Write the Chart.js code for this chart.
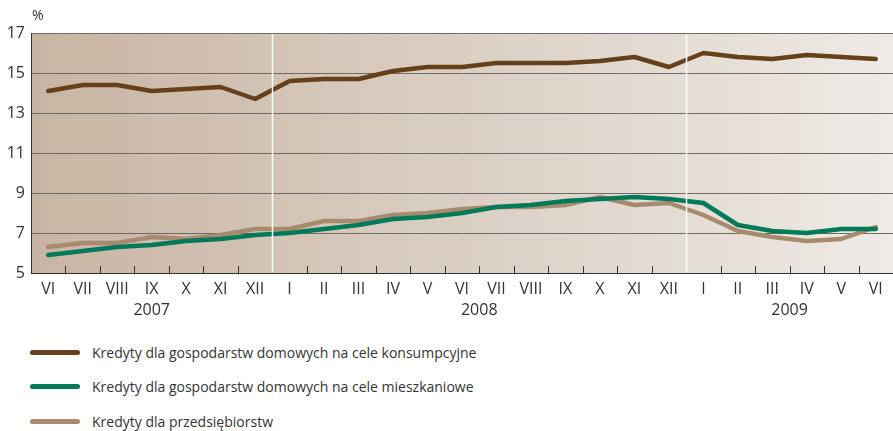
<!DOCTYPE html>
<html>
<head>
<meta charset="utf-8">
<script src="https://cdn.jsdelivr.net/npm/chart.js@4/dist/chart.umd.min.js"></script>
<style>
  body { margin: 0; background: #fff; font-family: "Open Sans", sans-serif; }
  #wrap { position: relative; width: 893px; height: 431px; }
  #box { position: absolute; left: 0; top: 0; width: 893px; height: 330px; }
  #legend { position: absolute; left: 30px; top: 335px; }
  .item { display: flex; align-items: center; height: 34.5px; font-size: 14px; color: #333; }
  .swatch { width: 50px; height: 5px; border-radius: 3px; margin-right: 12px; }
</style>
</head>
<body>
<div id="wrap">
  <div id="box"><canvas id="chart"></canvas></div>
  <div id="legend"></div>
</div>
<script>
const months = ["VI","VII","VIII","IX","X","XI","XII",
  "I","II","III","IV","V","VI","VII","VIII","IX","X","XI","XII",
  "I","II","III","IV","V","VI"];
// year label: first and last month index
const years = [
  { label: "2007", from: 0, to: 6 },
  { label: "2008", from: 7, to: 18 },
  { label: "2009", from: 19, to: 24 }
];
const consumer = [14.1,14.4,14.4,14.1,14.2,14.3,13.7,
  14.6,14.7,14.7,15.1,15.3,15.3,15.5,15.5,15.5,15.6,15.8,15.3,
  16.0,15.8,15.7,15.9,15.8,15.7];
const housing = [5.9,6.1,6.3,6.4,6.6,6.7,6.9,
  7.0,7.2,7.4,7.7,7.8,8.0,8.3,8.4,8.6,8.7,8.8,8.7,
  8.5,7.4,7.1,7.0,7.2,7.2];
const business = [6.3,6.5,6.5,6.8,6.7,6.9,7.2,
  7.2,7.6,7.6,7.9,8.0,8.2,8.3,8.3,8.4,8.8,8.4,8.5,
  7.9,7.1,6.8,6.6,6.7,7.3];
const seriesNames = [
  "Kredyty dla gospodarstw domowych na cele konsumpcyjne",
  "Kredyty dla gospodarstw domowych na cele mieszkaniowe",
  "Kredyty dla przedsiębiorstw"
];
const colors = ["#66401a", "#007a58", "#a88b6f"];

const FONT = "'Open Sans', sans-serif";

// background, year separators, inner ticks, year labels, % sign
const decor = {
  id: "decor",
  beforeDraw(chart) {
    const { ctx, chartArea: a } = chart;
    const g = ctx.createLinearGradient(a.left, 0, a.right, 0);
    g.addColorStop(0, "#c8b4a2");
    g.addColorStop(1, "#eeeae5");
    ctx.save();
    ctx.fillStyle = g;
    ctx.fillRect(a.left, a.top, a.right - a.left, a.bottom - a.top);
    ctx.restore();
  },
  afterDatasetsDraw(chart) {
    const { ctx, chartArea: a, scales: { x } } = chart;
    const half = (x.getPixelForValue(1) - x.getPixelForValue(0)) / 2;
    const breaks = years.slice(0, -1).map(y => y.to);
    ctx.save();
    // inward tick marks
    ctx.strokeStyle = "#333";
    ctx.lineWidth = 1;
    for (let i = 0; i < months.length - 1; i++) {
      if (breaks.includes(i)) continue;
      const px = Math.round(x.getPixelForValue(i) + half) + 0.5;
      ctx.beginPath();
      ctx.moveTo(px, a.bottom);
      ctx.lineTo(px, a.bottom - 7);
      ctx.stroke();
    }
    // white year separators
    ctx.strokeStyle = "#ffffff";
    ctx.lineWidth = 1.5;
    breaks.forEach(i => {
      const px = Math.round(x.getPixelForValue(i) + half) + 0.5;
      ctx.beginPath();
      ctx.moveTo(px, a.top + 1);
      ctx.lineTo(px, a.bottom - 1);
      ctx.stroke();
    });
    // year labels
    ctx.fillStyle = "#333";
    ctx.font = "16px " + FONT;
    ctx.textAlign = "center";
    ctx.textBaseline = "middle";
    years.forEach(y => {
      const cx = (x.getPixelForValue(y.from) + x.getPixelForValue(y.to)) / 2;
      ctx.fillText(y.label, cx, a.bottom + 37);
    });
    ctx.textAlign = "left";
    ctx.font = "14px " + FONT;
    ctx.fillText("%", a.left + 1, 16);
    ctx.restore();
  }
};

new Chart(document.getElementById("chart"), {
  type: "line",
  data: {
    labels: months,
    datasets: [consumer, housing, business].map((d, i) => ({
      label: seriesNames[i],
      data: d,
      borderColor: colors[i],
      backgroundColor: colors[i],
      borderWidth: 4.5,
      pointRadius: 0,
      tension: 0,
      borderJoinStyle: "round",
      borderCapStyle: "round"
    }))
  },
  options: {
    responsive: true,
    maintainAspectRatio: false,
    animation: false,
    layout: { padding: { top: 33, right: 0, left: 0, bottom: 0 } },
    plugins: { legend: { display: false }, tooltip: { enabled: false } },
    scales: {
      x: {
        offset: true,
        grid: { display: false, drawTicks: false },
        border: { color: "#333", width: 1 },
        ticks: { color: "#333", font: { size: 16, family: FONT }, padding: 7, maxRotation: 0, autoSkip: false },
        afterFit(s) { s.height = 57; }
      },
      y: {
        min: 5, max: 17,
        ticks: { stepSize: 2, color: "#333", font: { size: 16, family: FONT }, padding: 6 },
        grid: { color: "#6d6a67", lineWidth: 1, drawTicks: false },
        border: { color: "#333", width: 1 },
        afterFit(s) { s.width = 31; }
      }
    }
  },
  plugins: [decor]
});

document.getElementById("legend").innerHTML = seriesNames.map((n, i) => `
  <div class="item"><span class="swatch" style="background:${colors[i]}"></span>${n}</div>
`).join("");
</script>
</body>
</html>
